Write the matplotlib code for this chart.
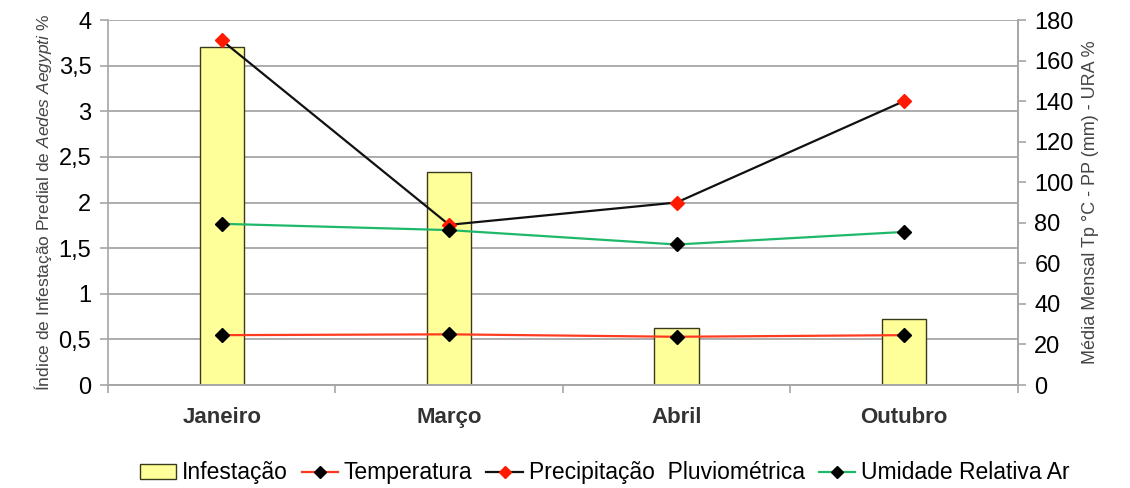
import numpy as np
import matplotlib
matplotlib.use("Agg")
import matplotlib.pyplot as plt
from matplotlib.lines import Line2D
from matplotlib.patches import Patch

plt.rcParams['font.family'] = ['Liberation Sans', 'DejaVu Sans']
plt.rcParams['mathtext.fontset'] = 'custom'
plt.rcParams['mathtext.rm'] = 'Liberation Sans'
plt.rcParams['mathtext.it'] = 'Liberation Sans:italic'

# data
meses = ['Janeiro', 'Março', 'Abril', 'Outubro']
infestacao = [3.70, 2.33, 0.63, 0.72]
temperatura = [24.6, 25.0, 23.8, 24.6]
precipitacao = [170, 79, 90, 140]
umidade = [79.5, 76.4, 69.3, 75.5]

left_ticks = [0, 0.5, 1, 1.5, 2, 2.5, 3, 3.5, 4]
left_labels = ['0', '0,5', '1', '1,5', '2', '2,5', '3', '3,5', '4']
right_ticks = list(range(0, 181, 20))

gray = '#a6a6a6'
x = np.arange(len(meses))

fig = plt.figure(figsize=(11.3, 4.88), dpi=100)
ax = fig.add_axes([0.0956, 0.211, 0.805, 0.748])
ax2 = ax.twinx()

ax.bar(x, infestacao, width=0.195, color='#ffff99', edgecolor='#3a3a1a', linewidth=1.0, zorder=2)
ax.set_xlim(-0.5, 3.5)
ax.set_ylim(0, 4)
ax.set_yticks(left_ticks)
ax.set_yticklabels(left_labels, fontsize=17)
ax.yaxis.grid(True, color=gray, linewidth=1.3, zorder=0)
ax.set_axisbelow(True)
ax.set_xticks(x)
ax.set_xticklabels(meses, fontsize=16, fontweight='bold', color='#333333')
ax.set_xticks(np.arange(-0.5, 3.6, 1.0), minor=True)
ax.tick_params(axis='x', which='major', length=0, pad=16)
ax.tick_params(axis='x', which='minor', length=6, color=gray, width=1.2)
ax.tick_params(axis='y', length=6, color=gray, width=1.2, pad=6)
ax.set_ylabel(r'Índice de Infestação Predial de $\it{Aedes\ Aegypti}$ %', fontsize=12.5, color='#444444', labelpad=3)

ax2.plot(x, temperatura, color='#ff3b1f', linewidth=1.6, marker='D', markersize=7,
         markerfacecolor='black', markeredgecolor='black', zorder=4)
ax2.plot(x, precipitacao, color='#111111', linewidth=1.6, marker='D', markersize=7,
         markerfacecolor='#ff1a00', markeredgecolor='#ff1a00', zorder=4)
ax2.plot(x, umidade, color='#1fb86a', linewidth=1.6, marker='D', markersize=7,
         markerfacecolor='black', markeredgecolor='black', zorder=4)
ax2.set_ylim(0, 180)
ax2.set_yticks(right_ticks)
ax2.tick_params(axis='y', labelsize=17, length=6, color=gray, width=1.2, pad=6)
ax2.set_ylabel('Média Mensal Tp °C - PP (mm) - URA %', fontsize=13, color='#444444', labelpad=6)

for a in (ax, ax2):
    a.spines['top'].set_visible(False)
    for s in ('left', 'right', 'bottom'):
        a.spines[s].set_color(gray)
        a.spines[s].set_linewidth(1.2)
ax2.spines['left'].set_visible(False)

handles = [
    Patch(facecolor='#ffff99', edgecolor='#3a3a1a', label='Infestação'),
    Line2D([], [], color='#ff3b1f', lw=1.6, marker='D', ms=6, mfc='black', mec='black', label='Temperatura'),
    Line2D([], [], color='#111111', lw=1.6, marker='D', ms=6, mfc='#ff1a00', mec='#ff1a00', label='Precipitação  Pluviométrica'),
    Line2D([], [], color='#1fb86a', lw=1.6, marker='D', ms=6, mfc='black', mec='black', label='Umidade Relativa Ar'),
]
fig.legend(handles=handles, loc='lower center', bbox_to_anchor=(0.535, -0.035), ncol=4, frameon=False,
           fontsize=16.5, handlelength=1.6, handleheight=0.6, handletextpad=0.25, columnspacing=0.6)

fig.savefig('out.png', dpi=100)
